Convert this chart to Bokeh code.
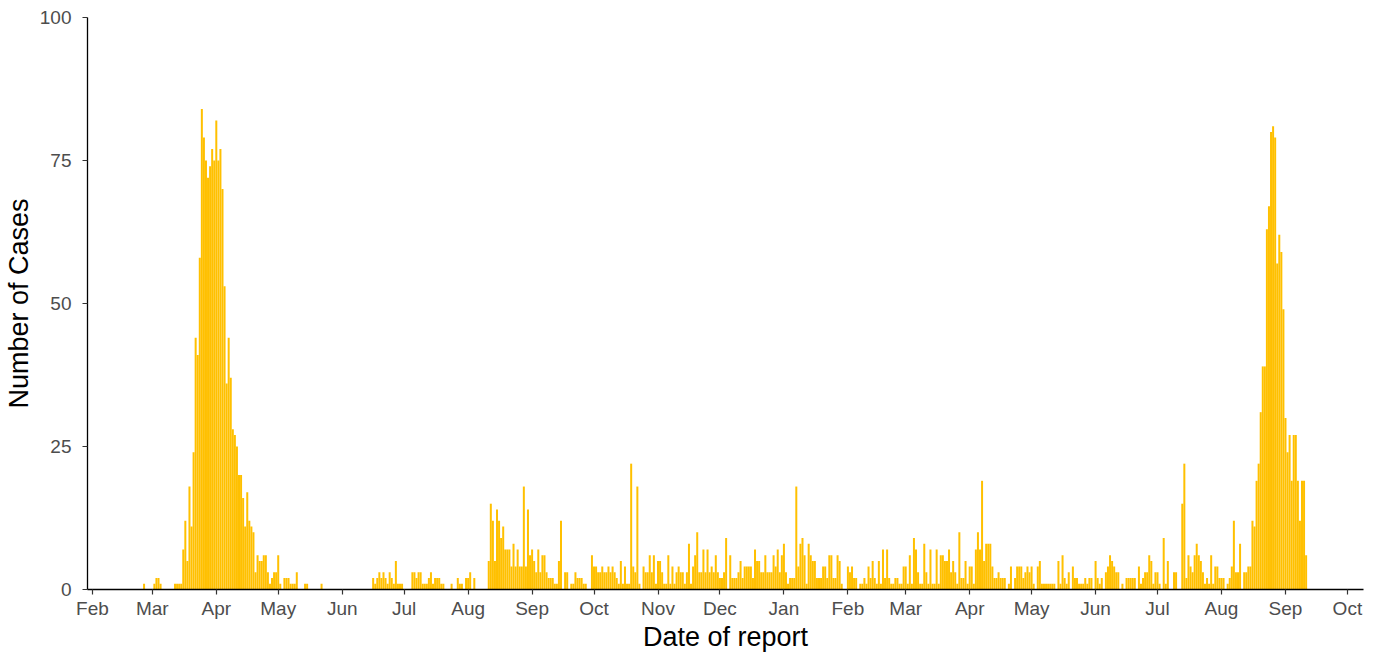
import pandas as pd
from bokeh.plotting import figure
from bokeh.models import ColumnDataSource, Range1d, FixedTicker, DatetimeTickFormatter
from bokeh.embed import file_html
from bokeh.resources import INLINE

# ---- data -------------------------------------------------------------
start_date = "2020-02-01"
daily_cases = (
    [0] * 25 + [1, 0, 0, 0, 0, 1, 2, 2, 1, 0, 0, 0, 0, 0, 0, 1, 1, 1, 1]
    + [7, 12, 5, 18, 11, 24, 44, 41, 58, 84, 79, 75, 72, 74, 77, 75, 82, 75, 77, 70,
       53, 36, 44, 37, 28, 27, 25, 20, 20, 16, 11, 17, 12, 11, 10]
    + [3, 6, 5, 5, 6, 6, 3, 1, 2, 3, 3, 6, 1, 0, 2, 2, 2, 1, 1, 1,
       3, 0, 0, 0, 1, 1, 0, 0, 0, 0, 0, 0, 1]
    + [0] * 24
    + [2, 1, 2, 3, 2, 3, 2, 1, 3, 2, 1, 5, 1, 1, 1, 0, 0, 0, 0, 3, 3, 2, 3, 3, 1, 1]
    + [1, 2, 3, 1, 2, 2, 2, 1, 1, 0, 0, 0, 1, 0, 0, 2, 1, 1, 0, 2,
       2, 3, 0, 2, 0, 0, 0, 0, 0, 0]
    + [5, 15, 12, 5, 14, 12, 9, 11, 7, 7, 7, 4, 8, 4, 7, 4]
    + [4, 18, 4, 14, 6, 7, 5, 3, 7, 3, 6, 6, 3, 2, 2, 2, 1, 1, 5, 12,
       0, 3, 3, 0, 1, 1, 3, 2, 2, 2, 1, 1, 0, 0, 6, 4, 4, 3, 3, 4, 3, 3, 4, 3]
    + [4, 3, 2, 1, 5, 1, 4, 1, 1, 22, 4, 3, 18, 1, 0, 4, 3, 3, 6, 3,
       6, 1, 5, 5, 3, 1, 1, 6, 1, 4, 1, 3, 4, 3, 3, 1, 3, 8, 1, 4,
       6, 10, 3, 3, 7, 3, 7]
    + [3, 4, 3, 6, 3, 2, 2, 3, 9, 0, 6, 2, 2, 2, 3, 5, 2, 4, 4, 4,
       4, 2, 7, 5, 5, 3, 3, 6, 3, 3, 3, 6, 4, 7, 3, 6, 8, 3, 1, 2,
       2, 2, 18, 4, 8]
    + [9, 6, 1, 8, 6, 5, 5, 2, 2, 2, 4, 4, 2, 6, 6, 2, 2, 6, 5, 1,
       0, 0, 4, 3, 4, 2, 2, 0, 1, 1, 2, 1, 4, 2, 5, 2, 1, 5, 1, 7,
       2, 7, 2, 1, 1, 2]
    + [2, 1, 1, 4, 4, 1, 6, 1, 9, 7, 3, 1, 1, 8, 3, 1, 7, 1, 1, 7,
       1, 6, 6, 5, 5, 7, 3, 5, 3, 1, 10, 2, 2, 5, 1, 4, 4, 1, 7, 10,
       7, 19, 5, 8, 8, 8]
    + [4, 2, 2, 3, 2, 2, 2, 0, 1, 4, 0, 2, 4, 4, 4, 2, 3, 4, 3, 4,
       1, 0, 4, 5, 1, 1, 1, 1, 1, 1, 1, 0, 5, 1, 6, 2, 1, 3, 0, 4,
       2, 2, 1, 1, 1, 2]
    + [1, 2, 2, 0, 5, 2, 1, 2, 0, 3, 4, 6, 5, 4, 3, 3, 0, 1, 0, 2,
       2, 2, 2, 2, 0, 4, 1, 2, 3, 3, 6, 5, 1, 3, 3, 1, 0, 9, 1, 5,
       0, 0, 3, 3, 0, 0]
    + [15, 22, 2, 6, 4, 3, 6, 8, 6, 5, 3, 1, 2, 1, 6, 1, 4, 4, 2, 2,
       2, 0, 1, 2, 4, 12, 3, 3, 8, 0, 3, 3, 4, 4, 12, 11, 19, 22, 31, 39,
       39, 63, 67, 80, 81, 79, 57, 62, 59, 49, 30, 24, 27, 19, 27, 27, 19, 12, 19, 19, 6]
)
month_ticks = pd.date_range("2020-02-01", "2021-10-01", freq="MS")
y_ticks = [0, 25, 50, 75, 100]

dates = pd.date_range(start_date, periods=len(daily_cases), freq="D")
src = ColumnDataSource(dict(date=dates, cases=daily_cases))

DAY = 24 * 3600 * 1000
t0 = pd.Timestamp(start_date).value // 10**6

p = figure(frame_width=1276, frame_height=572, x_axis_type="datetime",
           output_backend="svg", toolbar_location=None,
           x_range=Range1d(t0 - 2.4 * DAY, t0 + 615.8 * DAY),
           y_range=Range1d(0, 100),
           min_border_left=86, min_border_top=17, min_border_right=16,
           min_border_bottom=20)

p.vbar(x="date", top="cases", width=0.97 * DAY, source=src,
       fill_color="#FFC000", line_color=None)

p.xaxis.ticker = FixedTicker(ticks=[int(d.value // 10**6) for d in month_ticks])
p.xaxis.formatter = DatetimeTickFormatter(days="%b", months="%b", years="%b")
p.yaxis.ticker = FixedTicker(ticks=y_ticks)

p.xgrid.visible = False
p.ygrid.visible = False
p.outline_line_color = None

for ax in (p.xaxis, p.yaxis):
    ax.axis_line_color = "black"
    ax.axis_line_width = 1.3
    ax.major_tick_line_color = "#333333"
    ax.major_tick_line_width = 1.2
    ax.major_tick_in = 0
    ax.major_tick_out = 5
    ax.minor_tick_line_color = None
    ax.major_label_text_font = "Liberation Sans"
    ax.major_label_text_font_size = "19px"
    ax.major_label_text_color = "#4D4D4D"
    ax.axis_label_text_font = "Liberation Sans"
    ax.axis_label_text_font_size = "27px"
    ax.axis_label_text_font_style = "normal"
    ax.axis_label_text_color = "black"

p.xaxis.major_label_standoff = 3
p.yaxis.major_label_standoff = 11
p.xaxis.axis_label = "Date of report"
p.yaxis.axis_label = "Number of Cases"
p.xaxis.axis_label_standoff = 0
p.yaxis.axis_label_standoff = 3

open("out.html", "w").write(file_html(p, INLINE))
